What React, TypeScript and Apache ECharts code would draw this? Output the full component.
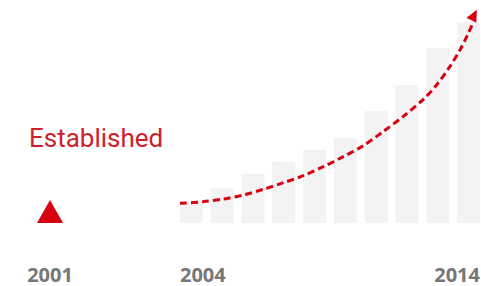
import React, { useEffect, useRef } from "react";
import * as echarts from "echarts";

// Bars: one per year interval between 2004 and 2014
const barCategories = ["2004", "2005", "2006", "2007", "2008", "2009", "2010", "2011", "2012", "2013"];
const barValues = [20, 35, 49, 61, 73, 85, 112, 138, 175, 201];

// Growth curve (x in years, y in same units as bars)
const curveX = [2004.13, 2004.89, 2005.54, 2006.19, 2006.84, 2007.49, 2008.13, 2008.78, 2009.43, 2010.08, 2010.72, 2011.37, 2012.03, 2012.46, 2012.89, 2013.22, 2013.49, 2013.64];
const curveY = [19.7, 21.3, 24, 28, 33.7, 40.3, 47.3, 56.3, 66.3, 77.3, 91.3, 106.3, 123.7, 138, 156.3, 173, 189.7, 200];
const arrowPoint = [2013.68, 208];

// Founding marker
const foundedCategories = ["2001"];
const foundedValue = [11.5];
const foundedText = "Established";

// Axis range of the bar section
const rangeStart = 2004;
const rangeEnd = 2014;

const RED = "#d7000f";
const GREY_LABEL = "#777777";

export default function App() {
  const ref = useRef<HTMLDivElement>(null);

  useEffect(() => {
    if (!ref.current) return;
    const chart = echarts.init(ref.current, null, { renderer: "svg" });
    const labelStyle = {
      color: GREY_LABEL,
      fontFamily: "Open Sans",
      fontWeight: "bold" as const,
      fontSize: 20,
    };
    chart.setOption({
      animation: false,
      backgroundColor: "#ffffff",
      grid: [
        { left: 20, width: 60, top: 3, bottom: 63, outerBoundsMode: "none", containLabel: false },
        { left: 176, right: -3, top: 3, bottom: 63, outerBoundsMode: "none", containLabel: false },
      ],
      xAxis: [
        {
          type: "category",
          gridIndex: 0,
          position: "bottom",
          data: foundedCategories,
          axisLine: { show: false },
          axisTick: { show: false },
          axisLabel: { ...labelStyle, margin: 41 },
        },
        {
          type: "category",
          gridIndex: 1,
          position: "bottom",
          data: barCategories,
          show: false,
        },
        {
          type: "value",
          gridIndex: 1,
          position: "bottom",
          min: rangeStart,
          max: rangeEnd,
          interval: rangeEnd - rangeStart,
          splitLine: { show: false },
          axisLine: { show: false },
          axisTick: { show: false },
          axisLabel: {
            ...labelStyle,
            margin: 41,
            padding: [0, 4, 0, 4],
            alignMinLabel: "left",
            alignMaxLabel: "right",
            formatter: (v: number) => String(v),
          },
        },
      ],
      yAxis: [
        { type: "value", gridIndex: 0, min: 0, max: 220, show: false },
        { type: "value", gridIndex: 1, min: 0, max: 220, show: false },
      ],
      graphic: [
        {
          type: "text",
          left: 29,
          top: 125,
          style: {
            text: foundedText,
            fill: "#d0202a",
            font: "normal 26px Roboto",
          },
        },
      ],
      series: [
        {
          type: "scatter",
          xAxisIndex: 0,
          yAxisIndex: 0,
          data: foundedValue,
          symbol: "triangle",
          symbolSize: [26, 23],
          itemStyle: { color: RED, opacity: 1 },
        },
        {
          type: "bar",
          xAxisIndex: 1,
          yAxisIndex: 1,
          data: barValues,
          barWidth: 23,
          itemStyle: { color: "#f3f3f3" },
        },
        {
          type: "line",
          xAxisIndex: 2,
          yAxisIndex: 1,
          data: curveX.map((x, i) => [x, curveY[i]]),
          smooth: 0.3,
          symbol: "none",
          lineStyle: { color: RED, width: 3, type: [7, 4] },
          z: 3,
        },
        {
          type: "scatter",
          xAxisIndex: 2,
          yAxisIndex: 1,
          data: [arrowPoint],
          symbol: "triangle",
          symbolSize: [11, 12],
          symbolRotate: -27,
          itemStyle: { color: RED, opacity: 1 },
          z: 4,
        },
      ],
    });
    return () => chart.dispose();
  }, []);

  return (
    <div
      ref={ref}
      style={{ position: "absolute", left: 0, top: 0, width: 481, height: 286 }}
    />
  );
}
